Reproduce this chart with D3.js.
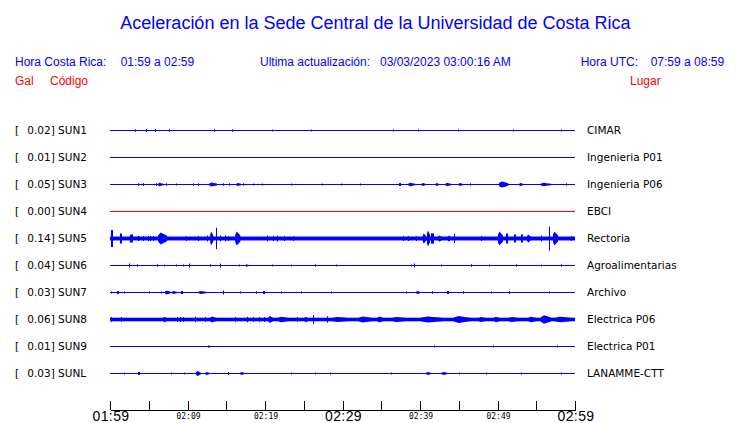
<!DOCTYPE html>
<html><head><meta charset="utf-8">
<script src="https://cdn.jsdelivr.net/npm/d3@7"></script>
<style>body{margin:0;background:#fff}svg{display:block}</style>
</head><body>
<svg id="c" width="740" height="423"></svg>
<script>
// ---------------- data ----------------
const stations = ["SUN1","SUN2","SUN3","SUN4","SUN5","SUN6","SUN7","SUN8","SUN9","SUNL"];
const peaks    = [0.02, 0.01, 0.05, 0.00, 0.14, 0.04, 0.03, 0.06, 0.01, 0.03];
const places   = ["CIMAR","Ingenieria P01","Ingenieria P06","EBCI","Rectoria","Agroalimentarias","Archivo","Electrica P06","Electrica P01","LANAMME-CTT"];
const noiseLevel = [0.004, 0.003, 0.004, 0.003, 0.023, 0.004, 0.004, 0.021, 0.003, 0.004];
const tickMinutes = [0,5,10,15,20,25,30,35,40,45,50,55,60];
const tickLabels  = ["01:59","02:09","02:19","02:29","02:39","02:49","02:59"];
const labelMinutes = [0,10,20,30,40,50,60];
// events: [start minute, end minute, amplitude (Gal)]
const evSUN1 = [[3.23,3.23,0.015],[4.65,4.8,0.018],[5.82,5.95,0.018],[7.63,7.63,0.015],[13.45,13.45,0.015],[15.78,15.78,0.015],[20.9,20.9,0.012],[25.9,25.9,0.012],[36.5,36.5,0.012],[39.7,39.7,0.012],[44.9,44.9,0.012],[52.0,52.0,0.012],[58.2,58.2,0.012]];
const evSUN2 = [];
const evSUN3 = [[3.62,3.62,0.014],[4.2,4.3,0.018],[5.9,5.9,0.014],[6.2,6.9,0.02],[7.2,7.2,0.014],[8.5,8.5,0.012],[10.7,10.7,0.012],[11.4,11.4,0.014],[12.8,13.8,0.023],[14.6,14.6,0.014],[15.4,15.4,0.014],[16.3,16.9,0.018],[17.2,17.2,0.014],[18.5,18.5,0.012],[19.6,19.6,0.012],[23.3,23.3,0.012],[27.4,27.4,0.012],[29.8,29.8,0.012],[32.3,32.3,0.012],[37.3,37.6,0.018],[38.5,39.4,0.02],[40.2,40.7,0.018],[42.0,42.4,0.018],[43.3,44.0,0.02],[45.0,45.5,0.018],[46.5,46.5,0.014],[50.2,51.4,0.035],[52.8,53.3,0.018],[55.6,56.9,0.02],[58.8,58.8,0.014]];
const evSUN4 = [];
const evSUN5 = [[0.13,0.39,0.10],[1.29,1.55,0.058],[2.59,2.97,0.047],[3.62,3.62,0.03],[4.27,4.27,0.03],[4.91,4.91,0.03],[5.17,5.17,0.03],[5.56,5.56,0.03],[6.21,7.37,0.07],[9.83,9.83,0.03],[11.38,11.38,0.03],[12.54,12.54,0.035],[12.93,13.32,0.082],[13.67,13.67,0.125],[14.22,14.22,0.035],[14.87,14.87,0.035],[15.26,15.26,0.03],[16.16,16.81,0.082],[20.3,20.3,0.035],[21.0,21.0,0.03],[21.6,21.6,0.035],[22.4,22.4,0.03],[23.67,23.67,0.03],[37.76,37.76,0.03],[38.4,38.4,0.03],[39.44,39.44,0.03],[40.35,40.8,0.06],[40.9,41.3,0.093],[41.4,41.77,0.06],[42.3,42.9,0.035],[43.58,43.97,0.035],[44.35,44.35,0.052],[47.85,47.85,0.03],[50.05,50.7,0.082],[51.08,51.33,0.058],[52.1,52.4,0.047],[53.0,53.3,0.047],[53.8,54.3,0.047],[55.61,55.61,0.035],[56.64,56.64,0.14],[57.16,57.8,0.082],[59.48,59.48,0.03]];
const evSUN6 = [[2.46,2.46,0.023],[3.5,3.5,0.014],[6.0,6.0,0.014],[7.0,7.0,0.012],[8.5,8.5,0.012],[9.4,9.4,0.012],[10.2,10.2,0.023],[12.9,12.9,0.014],[14.2,14.2,0.023],[16.6,16.6,0.012],[17.5,17.9,0.014],[20.9,20.9,0.012],[23.3,23.3,0.012],[26.5,26.5,0.014],[29.1,29.1,0.012],[38.8,38.8,0.012],[39.2,39.2,0.023],[42.7,42.7,0.012],[46.6,46.6,0.014],[48.9,48.9,0.012],[52.4,52.4,0.014],[55.6,55.6,0.012],[58.2,58.2,0.014]];
const evSUN7 = [[0.08,0.08,0.012],[0.9,1.15,0.018],[1.8,1.8,0.012],[5.0,5.0,0.012],[6.6,6.6,0.012],[7.1,7.8,0.023],[8.0,8.6,0.018],[9.2,9.5,0.018],[11.4,12.4,0.018],[14.6,14.6,0.023],[16.8,16.8,0.012],[18.8,18.8,0.014],[19.7,20.0,0.018],[22.0,22.0,0.012],[24.6,24.6,0.012],[28.5,28.5,0.012],[38.2,38.2,0.012],[39.5,40.0,0.018],[41.5,41.5,0.014],[43.5,43.8,0.018],[45.5,45.5,0.014],[49.2,49.2,0.012],[51.5,51.5,0.014],[56.6,56.6,0.012]];
const evSUN8 = [[0.13,0.13,0.029],[1.42,1.42,0.029],[6.85,7.37,0.033],[8.66,8.66,0.029],[9.05,9.05,0.029],[9.44,9.44,0.029],[10.99,10.99,0.033],[12.28,12.28,0.029],[12.93,13.7,0.036],[16.16,16.16,0.029],[17.71,17.71,0.033],[18.49,18.49,0.029],[19.27,19.27,0.029],[19.91,19.91,0.029],[20.43,21.08,0.04],[21.6,23.27,0.031],[24.18,24.18,0.029],[25.08,25.6,0.031],[26.25,26.25,0.052],[28.06,28.06,0.038],[28.45,31.42,0.029],[32.07,33.88,0.036],[34.52,35.3,0.036],[36.2,38.8,0.029],[40.08,43.06,0.036],[44.35,46.55,0.04],[47.46,48.75,0.029],[49.52,50.43,0.031],[51.34,53.02,0.029],[53.92,55.21,0.031],[55.6,56.9,0.05],[57.3,59.9,0.031]];
const evSUN9 = [[12.7,12.9,0.012],[41.8,41.8,0.012],[49.4,49.4,0.012],[57.7,57.7,0.012]];
const evSUNL = [[1.8,1.8,0.012],[3.6,3.9,0.018],[7.9,7.9,0.012],[9.6,9.6,0.012],[11.1,11.7,0.029],[12.3,12.8,0.018],[15.2,15.2,0.018],[16.8,17.3,0.018],[23.3,23.3,0.012],[26.5,26.5,0.012],[28.4,28.4,0.012],[36.2,36.2,0.012],[40.8,41.4,0.018],[42.8,43.5,0.018],[45.0,45.0,0.012],[48.5,48.5,0.012],[53.0,53.0,0.012],[58.2,58.2,0.012]];
const events = [evSUN1,evSUN2,evSUN3,evSUN4,evSUN5,evSUN6,evSUN7,evSUN8,evSUN9,evSUNL];

// ---------------- drawing ----------------
const BLUE = "#0000ff", RED = "#ff0000";
const svg = d3.select("#c");
svg.append("rect").attr("width",740).attr("height",423).attr("fill","#fff");

const x = d3.scaleLinear().domain([0,60]).range([110,575]);
const y = d3.scalePoint().domain(stations).range([130,373]);
const amp = d3.scaleLinear().domain([0,0.14]).range([0,12]);

const sans = "'Liberation Sans', Arial, sans-serif";
const dv = "'DejaVu Sans', sans-serif";

// header
svg.append("text").attr("x",375.5).attr("y",29).attr("text-anchor","middle")
  .attr("font-family",sans).attr("font-size",18).attr("fill",BLUE)
  .text("Aceleración en la Sede Central de la Universidad de Costa Rica");
const hdr = [
  ["Hora Costa Rica:",15,65.5,BLUE],["01:59 a 02:59",120.7,65.5,BLUE],
  ["Ultima actualización:",260,65.5,BLUE],["03/03/2023 03:00:16 AM",380,65.5,BLUE],
  ["Hora UTC:",580.7,65.5,BLUE],["07:59 a 08:59",650.7,65.5,BLUE],
  ["Gal",15,85,RED],["Código",50,85,RED],["Lugar",630,85,RED]
];
svg.selectAll("text.hdr").data(hdr).join("text").attr("class","hdr")
  .attr("x",d=>d[1]).attr("y",d=>d[2]).attr("fill",d=>d[3])
  .attr("font-family",sans).attr("font-size",12).text(d=>d[0]);

// rows (offset by half a pixel so 1px traces are crisp)
const rows = svg.selectAll("g.row").data(stations).join("g").attr("class","row")
  .attr("transform",d=>`translate(0,${y(d)+0.5})`);
rows.append("text").attr("x",15).attr("y",3.5).attr("font-family",dv).attr("font-size",10.5)
  .attr("fill","#000").text("[");
rows.append("text").attr("x",27.3).attr("y",3.5).attr("font-family",dv).attr("font-size",10.5)
  .attr("fill","#000").text((d,i)=>`${peaks[i].toFixed(2)}] ${d}`);
rows.append("text").attr("x",587).attr("y",3.5).attr("font-family",dv).attr("font-size",10.5)
  .attr("fill","#000").text((d,i)=>places[i]);

function burstPath(d){
  const x0 = x(d[0]), x1 = x(d[1]), w = x1 - x0, a = Math.max(0.5, amp(d[2]));
  if (w < 3) { const xx = Math.round(x0); const ww = Math.max(1,Math.round(w));
    return `M${xx},${-a}h${ww}v${2*a}h${-ww}Z`; }
  const pts = [[x0,-a*0.55],[x0+w*0.3,-a],[x0+w*0.55,-a*0.8],[x1,-a*0.45],
               [x1,a*0.45],[x0+w*0.55,a*0.8],[x0+w*0.3,a],[x0,a*0.55]];
  return d3.line()(pts) + "Z";
}

rows.each(function(st,i){
  const g = d3.select(this);
  const col = st==="SUN4" ? RED : BLUE;
  const h = Math.max(0.5, amp(noiseLevel[i]));
  g.append("rect").attr("x",x(0)).attr("width",x(60)-x(0))
    .attr("y",-h).attr("height",2*h).attr("fill",col);
  g.selectAll("path.ev").data(events[i]).join("path").attr("class","ev")
    .attr("d",burstPath).attr("fill",col);
});

// axis
const axis = d3.axisTop(x).tickValues(tickMinutes).tickSize(9).tickSizeOuter(0).tickFormat("");
const ag = svg.append("g").attr("transform","translate(0,409.5)").call(axis);
ag.selectAll("path,line").attr("stroke","#000").attr("shape-rendering","crispEdges");
svg.selectAll("text.tl").data(labelMinutes).join("text").attr("class","tl")
  .attr("x",d=>x(d)+1).attr("text-anchor","middle")
  .attr("y",(d,i)=> d%30===0 ? 421 : 418.5)
  .attr("font-family",(d)=> d%30===0 ? sans : "'DejaVu Sans Mono', monospace")
  .attr("font-size",(d)=> d%30===0 ? 14 : 8)
  .attr("letter-spacing",(d)=> d%30===0 ? 0.4 : 0)
  .attr("fill","#000")
  .text((d,i)=>tickLabels[i]);
</script>
</body></html>
